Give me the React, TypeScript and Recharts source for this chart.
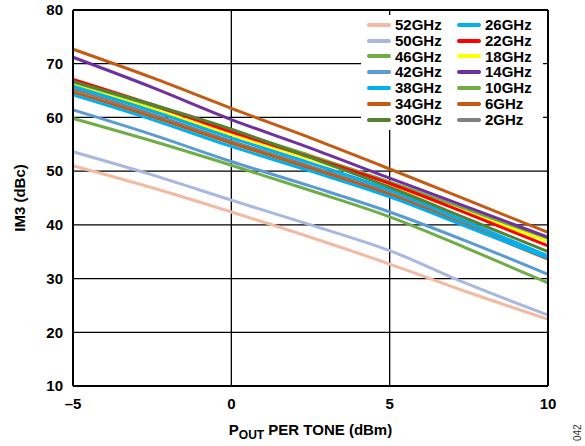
import React from "react";
import { LineChart, Line, XAxis, YAxis, CartesianGrid, Legend, Label, ReferenceLine } from "recharts";

const xValues = [-5, -2.5, 0, 2.5, 5, 7.5, 10];
const xTicks = [-5, 0, 5, 10];
const yTicks = [10, 20, 30, 40, 50, 60, 70, 80];

const s52 = [51.0, 46.9, 42.4, 37.7, 32.7, 27.4, 22.4];
const s50 = [53.6, 49.3, 44.6, 40.0, 35.2, 28.9, 23.2];
const s46 = [59.8, 55.6, 51.1, 46.4, 41.5, 35.5, 29.2];
const s42 = [61.4, 56.8, 51.8, 47.2, 42.4, 36.8, 30.8];
const s38 = [64.2, 59.6, 54.6, 50.0, 45.2, 39.5, 33.8];
const s34 = [72.7, 67.4, 61.7, 56.2, 50.4, 44.5, 38.6];
const s30 = [66.7, 62.4, 57.8, 52.5, 47.0, 41.0, 35.0];
const s26 = [65.8, 61.2, 56.2, 51.5, 46.5, 40.4, 34.2];
const s22 = [67.1, 62.4, 57.3, 52.6, 47.7, 42.0, 36.1];
const s18 = [66.0, 61.6, 56.8, 52.2, 47.4, 42.2, 36.9];
const s14 = [71.2, 65.6, 59.6, 54.3, 48.7, 43.2, 37.7];
const s10 = [66.3, 62.1, 57.5, 52.9, 48.0, 42.7, 37.3];
const s6 = [64.7, 60.1, 55.2, 50.5, 45.6, 39.6, 33.6];
const s2 = [65.3, 60.6, 55.6, 50.9, 46.0, 40.0, 34.0];

const series = [
  { key: "52GHz", values: s52, color: "#F4B9A2" },
  { key: "50GHz", values: s50, color: "#A9B8E0" },
  { key: "46GHz", values: s46, color: "#70AD47" },
  { key: "42GHz", values: s42, color: "#5B9BD5" },
  { key: "38GHz", values: s38, color: "#00B0F0" },
  { key: "34GHz", values: s34, color: "#C55A11" },
  { key: "30GHz", values: s30, color: "#548235" },
  { key: "26GHz", values: s26, color: "#00B0F0" },
  { key: "22GHz", values: s22, color: "#FF0000" },
  { key: "18GHz", values: s18, color: "#FFFF00" },
  { key: "14GHz", values: s14, color: "#7030A0" },
  { key: "10GHz", values: s10, color: "#70AD47" },
  { key: "6GHz", values: s6, color: "#C55A11" },
  { key: "2GHz", values: s2, color: "#808080" },
];

const data = xValues.map((x, i) => {
  const row: Record<string, number> = { x };
  series.forEach((s) => {
    row[s.key] = s.values[i];
  });
  return row;
});

const FONT = "Arial, 'Liberation Sans', sans-serif";

const fmtX = (v: number) => (v < 0 ? "\u2013" + Math.abs(v) : String(v));

const LegendBox = () => {
  const col1 = series.slice(0, 7);
  const col2 = series.slice(7);
  const item = (s: { key: string; color: string }) => (
    <div key={s.key} style={{ display: "flex", alignItems: "center", height: 15.8 }}>
      <div style={{ width: 24, height: 4, background: s.color, borderRadius: 2, marginRight: 4 }} />
      <span style={{ fontFamily: FONT, fontWeight: "bold", fontSize: 15, color: "#000", lineHeight: "15.8px" }}>{s.key}</span>
    </div>
  );
  return (
    <div style={{ background: "#fff", display: "flex", padding: "2px 4px 2px 6px", width: 182, boxSizing: "border-box" }}>
      <div style={{ width: 90 }}>{col1.map(item)}</div>
      <div>{col2.map(item)}</div>
    </div>
  );
};

const XTitle = (props: any) => {
  const vb = props.viewBox || {};
  const cx = vb.x + vb.width / 2;
  return (
    <text x={cx} y={435} textAnchor="middle" fontFamily={FONT} fontWeight="bold" fontSize={15} fill="#000">
      <tspan>P</tspan>
      <tspan fontSize={12} dy={4}>OUT</tspan>
      <tspan dy={-4}> PER TONE (dBm)</tspan>
    </text>
  );
};

const YTitle = (props: any) => {
  const vb = props.viewBox || {};
  const cy = vb.y + vb.height / 2;
  const x = 25;
  return (
    <text
      x={x}
      y={cy}
      transform={`rotate(-90, ${x}, ${cy})`}
      textAnchor="middle"
      fontFamily={FONT}
      fontWeight="bold"
      fontSize={15}
      fill="#000"
    >
      IM3 (dBc)
    </text>
  );
};

export default function App() {
  return (
    <div style={{ position: "absolute", left: 0, top: 0, width: 585, height: 446, background: "#fff" }}>
      <LineChart width={585} height={446} data={data} margin={{ top: 10, right: 37, left: 0, bottom: 0 }}>
        <CartesianGrid stroke="#000" strokeWidth={1.3} vertical={false} horizontal={true} />
        <ReferenceLine x={0} stroke="#000" strokeWidth={1.3} />
        <ReferenceLine x={5} stroke="#000" strokeWidth={1.3} />
        <XAxis
          dataKey="x"
          type="number"
          domain={[-5, 10]}
          ticks={xTicks}
          tickFormatter={fmtX}
          axisLine={false}
          tickLine={false}
          tickSize={0}
          tickMargin={12}
          height={60}
          tick={{ fontFamily: FONT, fontWeight: "bold", fontSize: 15, fill: "#000" }}
        >
          <Label content={<XTitle />} />
        </XAxis>
        <YAxis
          type="number"
          domain={[10, 80]}
          ticks={yTicks}
          axisLine={false}
          tickLine={false}
          tickSize={0}
          tickMargin={10}
          width={73}
          tick={{ fontFamily: FONT, fontWeight: "bold", fontSize: 15, fill: "#000" }}
        >
          <Label content={<YTitle />} />
        </YAxis>
        <Legend
          layout="vertical"
          align="center"
          verticalAlign="middle"
          content={<LegendBox />}
          wrapperStyle={{ position: "absolute", left: 361, top: 15, width: 182, height: 115 }}
        />
        {series
          .slice()
          .reverse()
          .map((s) => (
            <Line
              key={s.key}
              dataKey={s.key}
              stroke={s.color}
              strokeWidth={3}
              dot={false}
              type="monotone"
              isAnimationActive={false}
            />
          ))}
        <ReferenceLine x={-5} stroke="#000" strokeWidth={2} />
        <ReferenceLine x={10} stroke="#000" strokeWidth={2} />
        <ReferenceLine y={10} stroke="#000" strokeWidth={2} />
        <ReferenceLine y={80} stroke="#000" strokeWidth={2} />
      </LineChart>
      <div
        style={{
          position: "absolute",
          left: 572,
          top: 441,
          fontFamily: FONT,
          fontSize: 10,
          color: "#333",
          transform: "rotate(-90deg)",
          transformOrigin: "left top",
        }}
      >
        042
      </div>
    </div>
  );
}
